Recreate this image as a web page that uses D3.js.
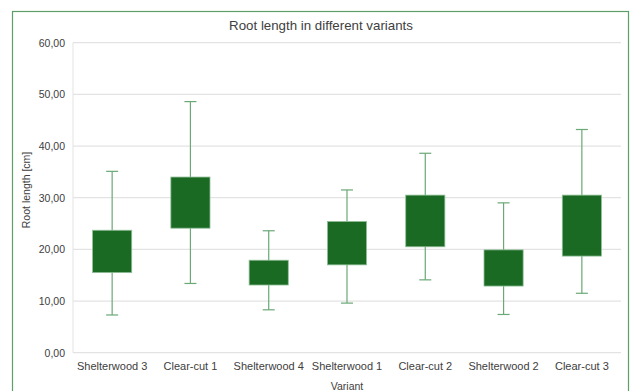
<!DOCTYPE html>
<html lang="en">
<head>
    <meta charset="UTF-8">
    <title>Root length in different variants</title>
    <script src="https://d3js.org/d3.v7.min.js"></script>
    <style>
        body { margin: 0; background: #fff; }
        text { font-family: "Liberation Sans", Arial, sans-serif; fill: #404040; }
    </style>
</head>
<body>
    <svg width="633" height="391"></svg>
    <script>
        // values
        const variants = ["Shelterwood 3", "Clear-cut 1", "Shelterwood 4", "Shelterwood 1", "Clear-cut 2", "Shelterwood 2", "Clear-cut 3"];
        const minVals = [7.3, 13.4, 8.3, 9.6, 14.1, 7.4, 11.5];
        const q1Vals  = [15.5, 24.1, 13.1, 17.0, 20.5, 12.9, 18.7];
        const q3Vals  = [23.7, 34.0, 17.9, 25.4, 30.5, 19.9, 30.5];
        const maxVals = [35.1, 48.6, 23.6, 31.5, 38.6, 29.0, 43.2];
        const yTicks = [0, 10, 20, 30, 40, 50, 60];

        const data = variants.map((v, i) => ({
            name: v, min: minVals[i], q1: q1Vals[i], q3: q3Vals[i], max: maxVals[i]
        }));

        const svg = d3.select("svg");
        const plot = {left: 73, right: 621, top: 42.7, bottom: 352.7};

        // outer chart frame
        svg.append("rect")
            .attr("x", 12.5).attr("y", 11.5)
            .attr("width", 616).attr("height", 400)
            .attr("fill", "none")
            .attr("stroke", "#5e9e68")
            .attr("stroke-width", 1.2);

        const x = d3.scaleBand().domain(variants).range([plot.left, plot.right]);
        const y = d3.scaleLinear().domain([0, 60]).range([plot.bottom, plot.top]);
        const fmt = d => d3.format(".2f")(d).replace(".", ",");

        // gridlines
        svg.append("g")
            .selectAll("line")
            .data(yTicks)
            .join("line")
            .attr("x1", plot.left).attr("x2", plot.right)
            .attr("y1", d => y(d)).attr("y2", d => y(d))
            .attr("stroke", "#e3e3e3")
            .attr("stroke-width", 1.2);

        svg.append("line")
            .attr("x1", plot.left).attr("x2", plot.left)
            .attr("y1", plot.top).attr("y2", plot.bottom)
            .attr("stroke", "#e3e3e3");

        const yAxis = svg.append("g")
            .attr("transform", `translate(${plot.left},0)`)
            .call(d3.axisLeft(y).tickValues(yTicks).tickFormat(fmt).tickSize(0).tickPadding(8));
        yAxis.select(".domain").remove();
        yAxis.selectAll("text").style("font-size", "10.5px").attr("fill", "#404040");

        const xAxis = svg.append("g")
            .attr("transform", `translate(0,${plot.bottom})`)
            .call(d3.axisBottom(x).tickSize(0).tickPadding(10));
        xAxis.select(".domain").remove();
        xAxis.selectAll("text").style("font-size", "11px").attr("fill", "#404040");

        const boxW = x.bandwidth() * 0.5;
        const capW = 12;
        const whisker = "#6aa876";

        const g = svg.append("g").selectAll("g").data(data).join("g")
            .attr("transform", d => `translate(${x(d.name) + x.bandwidth() / 2},0)`);

        g.append("line")
            .attr("y1", d => y(d.max)).attr("y2", d => y(d.min))
            .attr("stroke", whisker).attr("stroke-width", 1.2);
        g.append("line")
            .attr("x1", -capW / 2).attr("x2", capW / 2)
            .attr("y1", d => y(d.max)).attr("y2", d => y(d.max))
            .attr("stroke", whisker).attr("stroke-width", 1.2);
        g.append("line")
            .attr("x1", -capW / 2).attr("x2", capW / 2)
            .attr("y1", d => y(d.min)).attr("y2", d => y(d.min))
            .attr("stroke", whisker).attr("stroke-width", 1.2);
        g.append("rect")
            .attr("x", -boxW / 2).attr("width", boxW)
            .attr("y", d => y(d.q3))
            .attr("height", d => y(d.q1) - y(d.q3))
            .attr("fill", "#1b6a24")
            .attr("stroke", "#8fbf98")
            .attr("stroke-width", 0.8);

        svg.append("text")
            .attr("x", 321).attr("y", 29.5)
            .attr("text-anchor", "middle")
            .style("font-size", "13.3px")
            .attr("fill", "#222")
            .text("Root length in different variants");

        svg.append("text")
            .attr("transform", "translate(30,190) rotate(-90)")
            .attr("text-anchor", "middle")
            .style("font-size", "10.5px")
            .attr("fill", "#222")
            .text("Root length [cm]");

        svg.append("text")
            .attr("x", (plot.left + plot.right) / 2).attr("y", 390)
            .attr("text-anchor", "middle")
            .style("font-size", "10.5px")
            .attr("fill", "#333")
            .text("Variant");
    </script>
</body>
</html>
